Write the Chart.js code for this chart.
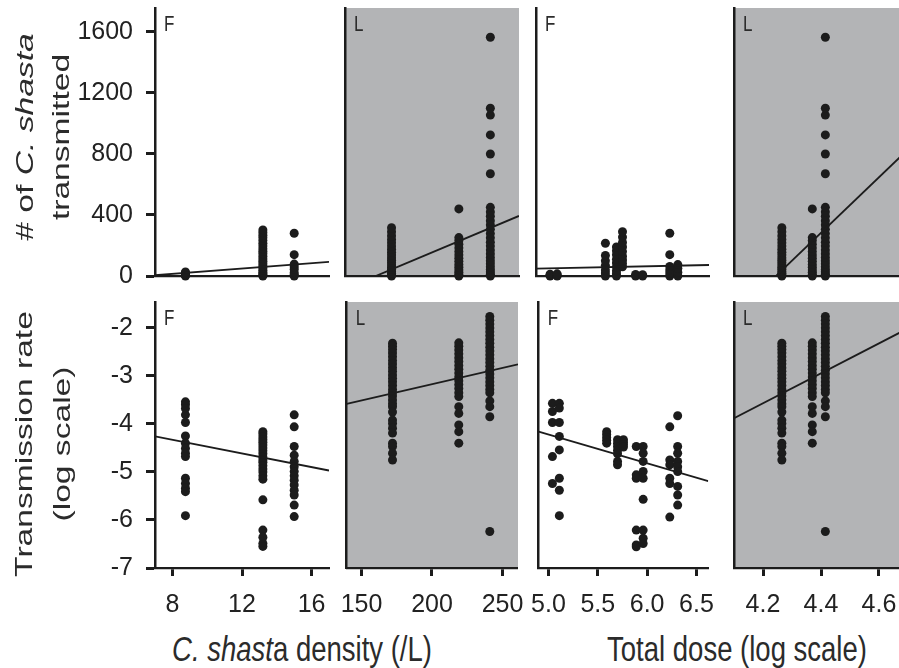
<!DOCTYPE html>
<html>
<head>
<meta charset="utf-8">
<script src="https://cdn.jsdelivr.net/npm/chart.js@4.4.1/dist/chart.umd.min.js"></script>
<style>
  html, body { margin: 0; padding: 0; background: #fff; overflow: hidden; }
  #fig { position: absolute; left: 0; top: 0; width: 899px; height: 668px; overflow: hidden; }
  #fig canvas { position: absolute; }
  .ttl { position: absolute; z-index: 2; font-family: "Liberation Sans", Arial, sans-serif; color: #2b2b2b; white-space: nowrap; text-align: center; }
  .ytl { transform: translate(-50%, -50%) scaleY(1.4) rotate(-90deg); font-size: 24px; }
  .xtl { transform: translate(-50%, -50%) scaleY(1.25); font-size: 27.5px; }
</style>
</head>
<body>
<div id="fig">
  <div class="ttl ytl" id="yt1" style="line-height:36px"># of <i>C. shasta</i><br>transmitted</div>
  <div class="ttl ytl" id="yt2" style="line-height:38px">Transmission rate<br>(log scale)</div>
  <div class="ttl xtl" id="xt1"><i>C. shast</i>a density (/L)</div>
  <div class="ttl xtl" id="xt2">Total dose (log scale)</div>
</div>
<script>
// axis ranges and ticks
const densFRange = [7, 17];
const densLRange = [139.5, 261];
const doseFRange = [4.9, 6.62];
const doseLRange = [4.1, 4.7];
const countRange = [0, 1757];
const rateRange = [-7, -1.46];

const densFTicks = [8, 12, 16];
const densLTicks = [150, 200, 250];
const doseFTicks = [5.0, 5.5, 6.0, 6.5];
const doseLTicks = [4.2, 4.4, 4.6];
const countTicks = [0, 400, 800, 1200, 1600];
const rateTicks = [-7, -6, -5, -4, -3, -2];

// F treatment, grouped by density
const fDensX = [8.75, 13.2, 15.0];
const fDensCount = [
  [0, 4, 9, 14, 20, 27],
  [0, 6, 14, 25, 38, 52, 66, 80, 96, 112, 128, 146, 162, 178, 196, 214, 232, 250, 266, 284, 302],
  [0, 8, 22, 45, 60, 78, 140, 280]
];
const fDensRate = [
  [-3.54, -3.6, -3.68, -3.81, -3.97, -4.25, -4.4, -4.51, -4.61, -4.68, -5.13, -5.24, -5.34, -5.41, -5.91],
  [-4.16, -4.21, -4.27, -4.33, -4.38, -4.44, -4.5, -4.56, -4.62, -4.69, -4.75, -4.8, -4.87, -4.94, -5.0, -5.08, -5.15, -5.58, -6.21, -6.36, -6.49, -6.55],
  [-3.81, -4.06, -4.47, -4.65, -4.78, -4.89, -4.99, -5.08, -5.17, -5.27, -5.38, -5.48, -5.69, -5.93]
];

// F treatment, grouped by total dose
const fDoseX = [5.04, 5.11, 5.59, 5.70, 5.76, 5.89, 5.96, 6.23, 6.31];
const fDoseCount = [
  [0, 6, 12],
  [0, 5, 14],
  [0, 20, 40, 70, 100, 135, 215],
  [0, 15, 35, 60, 85, 110, 140, 165, 190],
  [60, 82, 105, 130, 160, 190, 220, 255, 290],
  [0, 10],
  [0, 8],
  [0, 20, 40, 62, 140, 280],
  [0, 25, 50, 75]
];
const fDoseRate = [
  [-3.57, -3.74, -3.97, -4.68, -5.24],
  [-3.57, -3.67, -3.97, -4.26, -4.54, -5.13, -5.38, -5.91],
  [-4.16, -4.22, -4.28, -4.34, -4.4],
  [-4.33, -4.4, -4.47, -4.55, -4.62, -4.78, -4.85],
  [-4.33, -4.38, -4.43, -4.48],
  [-4.47, -5.06, -5.13, -6.21, -6.52, -6.56],
  [-4.47, -4.61, -4.78, -4.99, -5.13, -5.57, -6.21, -6.38, -6.49],
  [-4.06, -4.75, -4.85, -5.13, -5.24, -5.94],
  [-3.83, -4.47, -4.61, -4.78, -4.89, -4.99, -5.3, -5.48, -5.69]
];

// L treatment (same fish in both L panels)
const lDensX = [172, 219, 241];
const lDoseX = [4.265, 4.37, 4.415];
const lCount = [
  [0, 8, 18, 30, 44, 58, 72, 88, 104, 120, 138, 156, 176, 196, 218, 240, 264, 290, 316],
  [0, 10, 24, 40, 58, 76, 96, 116, 138, 160, 184, 208, 232, 252, 440],
  [0, 12, 26, 42, 60, 80, 100, 122, 146, 170, 196, 222, 250, 278, 306, 334, 362, 392, 420, 450, 670, 800, 925, 1055, 1100, 1565]
];
const lRate = [
  [-2.32, -2.38, -2.45, -2.52, -2.6, -2.68, -2.75, -2.83, -2.9, -2.98, -3.05, -3.12, -3.2, -3.28, -3.35, -3.42, -3.5, -3.58, -3.64, -3.75, -3.92, -3.99, -4.09, -4.19, -4.4, -4.47, -4.61, -4.75],
  [-2.31, -2.38, -2.46, -2.54, -2.62, -2.7, -2.78, -2.86, -2.94, -3.02, -3.1, -3.18, -3.26, -3.35, -3.43, -3.64, -3.78, -4.02, -4.16, -4.4],
  [-1.76, -1.84, -1.92, -2.0, -2.08, -2.16, -2.24, -2.32, -2.4, -2.48, -2.56, -2.64, -2.72, -2.8, -2.88, -2.96, -3.04, -3.12, -3.2, -3.28, -3.35, -3.52, -3.64, -3.85, -6.24]
];

// regression lines: fitted y at the two ends of each x range
const fDensCountFit = [5, 92];
const lDensCountFit = [-85, 394];
const fDoseCountFit = [48, 72];
const lDoseCountFit = [-264, 830];
const fDensRateFit = [-4.26, -4.97];
const lDensRateFit = [-3.58, -2.76];
const fDoseRateFit = [-4.16, -5.19];
const lDoseRateFit = [-3.88, -2.01];

// ---- layout ----
const FONT = '"Liberation Sans", Arial, Helvetica, sans-serif';
const INK = '#1c1c1c';
const GRAY = '#b3b4b6';
const colX = [[155, 329], [345, 519], [536, 709], [734, 908]];
const rowY = [[8, 276], [302, 568]];
const fig = document.getElementById('fig');

Chart.defaults.font.family = FONT;

const panelDecor = {
  id: 'panelDecor',
  beforeDraw(chart, args, opts) {
    const a = chart.chartArea, ctx = chart.ctx;
    if (opts.fill) {
      ctx.save();
      ctx.fillStyle = opts.fill;
      ctx.fillRect(a.left, a.top, a.right - a.left, a.bottom - a.top);
      ctx.restore();
    }
  },
  beforeDatasetsDraw(chart, args, opts) {
    const a = chart.chartArea, ctx = chart.ctx;
    ctx.save();
    ctx.translate(a.left + 9, a.top + 6);
    ctx.scale(1, 1.3);
    ctx.font = '17px ' + FONT;
    ctx.fillStyle = '#2b2b2b';
    ctx.textBaseline = 'top';
    ctx.fillText(opts.tag, 0, 0);
    ctx.restore();
  }
};

function points(xs, ys) {
  const out = [];
  xs.forEach((x, i) => ys[i].forEach(y => out.push({ x: x, y: y })));
  return out;
}

function makePanel(col, row, tag, xs, ys, xRange, xTicks, xFmt, fit) {
  const yRange = row === 0 ? countRange : rateRange;
  const yTicks = row === 0 ? countTicks : rateTicks;
  const YW = col === 0 ? 80 : 0;
  const XH = row === 1 ? 56 : 0;
  const PADL = 20, PADR = 20, PADT = 32, PADB = row === 0 ? 32 : 4;
  const plotW = colX[col][1] - colX[col][0];
  const plotH = rowY[row][1] - rowY[row][0];

  const cv = document.createElement('canvas');
  cv.width = PADL + YW + plotW + PADR;
  cv.height = PADT + plotH + XH + PADB;
  cv.style.left = (colX[col][0] - YW - PADL) + 'px';
  cv.style.top = (rowY[row][0] - PADT) + 'px';
  fig.appendChild(cv);

  new Chart(cv, {
    type: 'scatter',
    data: {
      datasets: [
        { data: [{ x: xRange[0], y: fit[0] }, { x: xRange[1], y: fit[1] }], showLine: true,
          borderColor: INK, borderWidth: 1.8, pointRadius: 0, order: 0 },
        { data: points(xs, ys), backgroundColor: INK, borderWidth: 0, pointRadius: 4.5,
          clip: false, order: 1 }
      ]
    },
    options: {
      responsive: false,
      animation: false,
      layout: { padding: { left: PADL, right: PADR, top: PADT, bottom: PADB } },
      plugins: {
        legend: { display: false },
        tooltip: { enabled: false },
        panelDecor: { tag: tag, fill: col % 2 === 1 ? GRAY : null }
      },
      scales: {
        x: {
          type: 'linear', min: xRange[0], max: xRange[1],
          afterBuildTicks: s => { s.ticks = xTicks.map(v => ({ value: v })); },
          afterFit: s => { s.height = XH; },
          ticks: { display: row === 1, color: '#222', font: { size: 25 }, padding: 14,
                   maxRotation: 0, autoSkip: false, callback: v => xFmt(v) },
          grid: { display: row === 1, drawOnChartArea: false, drawTicks: true,
                  tickLength: 8, tickWidth: 3, tickColor: INK },
          border: { display: true, color: INK, width: 2.3 }
        },
        y: {
          type: 'linear', min: yRange[0], max: yRange[1],
          afterBuildTicks: s => { s.ticks = yTicks.map(v => ({ value: v })); },
          afterFit: s => { s.width = YW; },
          ticks: { display: col === 0, color: '#222', font: { size: 25 }, padding: 13,
                   callback: v => String(v) },
          grid: { display: col === 0, drawOnChartArea: false, drawTicks: true,
                  tickLength: 9, tickWidth: 3, tickColor: INK },
          border: { display: true, color: INK, width: 2.5 }
        }
      }
    },
    plugins: [panelDecor]
  });
}

const intFmt = v => String(v);
const oneDec = v => v.toFixed(1);

makePanel(0, 0, 'F', fDensX, fDensCount, densFRange, densFTicks, intFmt, fDensCountFit);
makePanel(1, 0, 'L', lDensX, lCount, densLRange, densLTicks, intFmt, lDensCountFit);
makePanel(2, 0, 'F', fDoseX, fDoseCount, doseFRange, doseFTicks, oneDec, fDoseCountFit);
makePanel(3, 0, 'L', lDoseX, lCount, doseLRange, doseLTicks, oneDec, lDoseCountFit);
makePanel(0, 1, 'F', fDensX, fDensRate, densFRange, densFTicks, intFmt, fDensRateFit);
makePanel(1, 1, 'L', lDensX, lRate, densLRange, densLTicks, intFmt, lDensRateFit);
makePanel(2, 1, 'F', fDoseX, fDoseRate, doseFRange, doseFTicks, oneDec, fDoseRateFit);
makePanel(3, 1, 'L', lDoseX, lRate, doseLRange, doseLTicks, oneDec, lDoseRateFit);

// axis titles, centred on these points
function place(id, cx, cy) {
  const el = document.getElementById(id);
  el.style.left = cx + 'px';
  el.style.top = cy + 'px';
}
place('yt1', 43, 137);
place('yt2', 43, 444);
place('xt1', 302, 650);
place('xt2', 737, 650);
</script>
</body>
</html>
